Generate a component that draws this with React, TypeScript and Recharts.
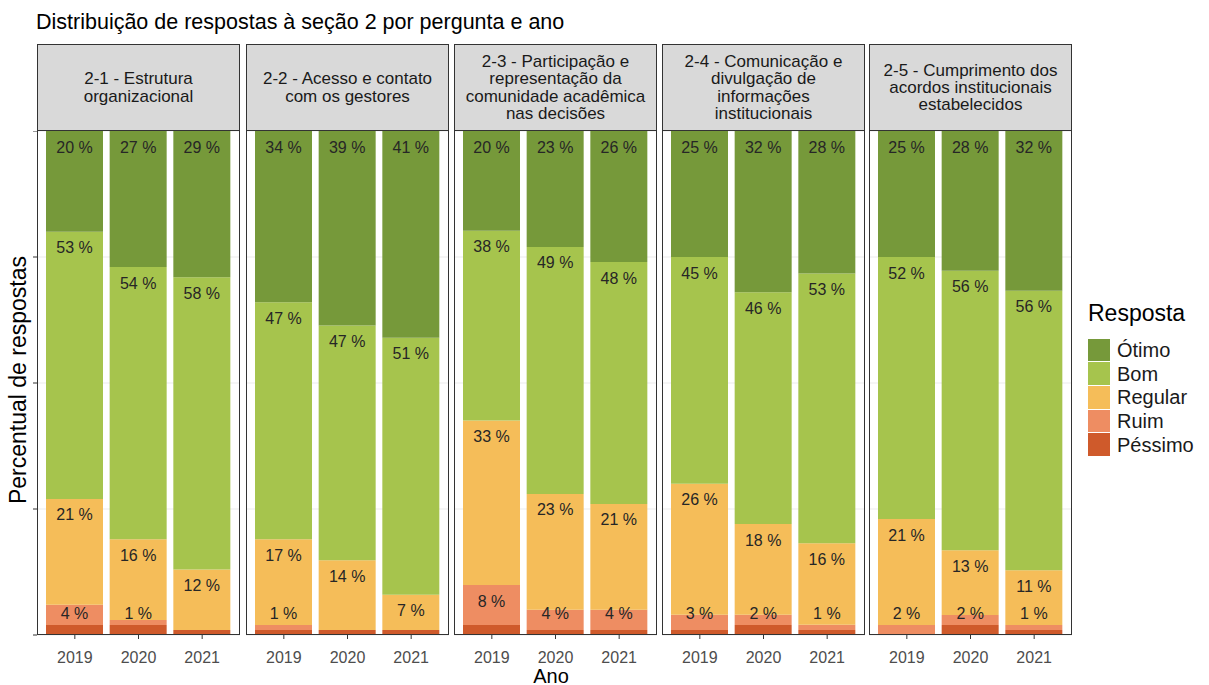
import React from 'react';
import { BarChart, Bar, XAxis, YAxis, CartesianGrid, LabelList } from 'recharts';

const years = ['2019', '2020', '2021'];

const questions = [
  ['2-1 - Estrutura', 'organizacional'],
  ['2-2 - Acesso e contato', 'com os gestores'],
  ['2-3 - Participação e', 'representação da', 'comunidade acadêmica', 'nas decisões'],
  ['2-4 - Comunicação e', 'divulgação de', 'informações', 'institucionais'],
  ['2-5 - Cumprimento dos', 'acordos institucionais', 'estabelecidos'],
];

// percent per question (row) and year (column)
const otimo = [[20, 27, 29], [34, 39, 41], [20, 23, 26], [25, 32, 28], [25, 28, 32]];
const bom = [[53, 54, 58], [47, 47, 51], [38, 49, 48], [45, 46, 53], [52, 56, 56]];
const regular = [[21, 16, 12], [17, 14, 7], [33, 23, 21], [26, 18, 16], [21, 13, 11]];
const ruim = [[4, 1, 0], [1, 0, 0], [8, 4, 4], [3, 2, 1], [2, 2, 1]];
const pessimo = [[2, 2, 1], [1, 1, 1], [2, 1, 1], [1, 2, 1], [0, 2, 1]];

const answers = [
  { key: 'otimo', name: 'Ótimo', color: '#76993a', label: true },
  { key: 'bom', name: 'Bom', color: '#a6c44d', label: true },
  { key: 'regular', name: 'Regular', color: '#f5bd59', label: true },
  { key: 'ruim', name: 'Ruim', color: '#ee8d62', label: true },
  { key: 'pessimo', name: 'Péssimo', color: '#cf5a2b', label: false },
];

const FONT = '"Liberation Sans", Arial, sans-serif';
const panelLefts = [37, 246, 454, 662, 869];
const PANEL_W = 203;
const PLOT_TOP = 131;
const PLOT_H = 504;
const STRIP_TOP = 44;

const makeRows = (q: number) =>
  years.map((year, i) => ({
    year,
    otimo: otimo[q][i],
    bom: bom[q][i],
    regular: regular[q][i],
    ruim: ruim[q][i],
    pessimo: pessimo[q][i],
  }));

const makeLabel = (rows: any[], key: string) => (props: any) => {
  const { x, y, width, index } = props;
  const v = rows[index][key];
  if (!v) return null;
  const cy = Math.min(y + 16, PLOT_H - 22);
  return (
    <text
      x={x + width / 2}
      y={cy}
      textAnchor="middle"
      dominantBaseline="central"
      fontSize={16}
      fontFamily={FONT}
      fill="#262626"
    >
      {`${v} %`}
    </text>
  );
};

const Panel: React.FC<{ q: number }> = ({ q }) => {
  const rows = makeRows(q);
  const first = q === 0;
  const yw = first ? 6 : 0;
  const stackOrder = [...answers].reverse();
  return (
    <div style={{ position: 'absolute', left: panelLefts[q] - yw, top: PLOT_TOP }}>
      <BarChart
        width={PANEL_W + yw}
        height={PLOT_H + 36}
        data={rows}
        stackOffset="expand"
        margin={{ top: 0, right: 0, bottom: 0, left: 0 }}
        barSize={57}
      >
        <CartesianGrid vertical={false} stroke="#ebebeb" />
        <XAxis
          dataKey="year"
          type="category"
          interval={0}
          padding={{ left: 6, right: 6 }}
          axisLine={false}
          tickLine={{ stroke: '#333' }}
          tickSize={4}
          tickMargin={13}
          height={36}
          tick={{ fontSize: 16, fill: '#4d4d4d', fontFamily: FONT }}
        />
        <YAxis
          hide={!first}
          width={yw}
          domain={[0, 1]}
          ticks={[0, 0.25, 0.5, 0.75, 1]}
          tickFormatter={() => ''}
          axisLine={false}
          tickLine={{ stroke: '#333' }}
          tickSize={4}
        />
        {stackOrder.map((a) => (
          <Bar key={a.key} dataKey={a.key} stackId="s" fill={a.color} isAnimationActive={false}>
            {a.label && <LabelList content={makeLabel(rows, a.key)} />}
          </Bar>
        ))}
      </BarChart>
      <div
        style={{
          position: 'absolute',
          left: yw,
          top: -1,
          width: PANEL_W,
          height: PLOT_H + 1,
          border: '1px solid #333',
          boxSizing: 'border-box',
          pointerEvents: 'none',
        }}
      />
    </div>
  );
};

export default function App() {
  return (
    <div
      style={{
        position: 'absolute',
        left: 0,
        top: 0,
        width: 1209,
        height: 685,
        background: '#fff',
        fontFamily: FONT,
        overflow: 'hidden',
      }}
    >
      <div
        style={{
          position: 'absolute',
          left: 36,
          top: 23,
          transform: 'translateY(-50%)',
          fontSize: 21.5,
          lineHeight: 1,
          color: '#000',
          whiteSpace: 'nowrap',
        }}
      >
        Distribuição de respostas à seção 2 por pergunta e ano
      </div>

      {questions.map((lines, q) => (
        <div
          key={'strip' + q}
          style={{
            position: 'absolute',
            left: panelLefts[q],
            top: STRIP_TOP,
            width: PANEL_W,
            height: PLOT_TOP - STRIP_TOP,
            background: '#d9d9d9',
            border: '1px solid #333',
            boxSizing: 'border-box',
            display: 'flex',
            flexDirection: 'column',
            alignItems: 'center',
            justifyContent: 'center',
            fontSize: 17,
            lineHeight: '17.3px',
            color: '#1a1a1a',
            textAlign: 'center',
            whiteSpace: 'nowrap',
          }}
        >
          {lines.map((l, i) => (
            <div key={i}>{l}</div>
          ))}
        </div>
      ))}

      {questions.map((_, q) => (
        <Panel key={'panel' + q} q={q} />
      ))}

      <div
        style={{
          position: 'absolute',
          left: 18,
          top: 380,
          transform: 'translate(-50%, -50%) rotate(-90deg)',
          fontSize: 23,
          lineHeight: 1,
          whiteSpace: 'nowrap',
          color: '#000',
        }}
      >
        Percentual de respostas
      </div>

      <div
        style={{
          position: 'absolute',
          left: 551,
          top: 676,
          transform: 'translate(-50%, -50%)',
          fontSize: 20,
          lineHeight: 0.85,
          color: '#000',
        }}
      >
        Ano
      </div>

      <div
        style={{
          position: 'absolute',
          left: 1088,
          top: 313,
          transform: 'translateY(-50%)',
          fontSize: 23,
          lineHeight: 1,
          color: '#000',
        }}
      >
        Resposta
      </div>
      {answers.map((a, i) => (
        <div
          key={a.key}
          style={{
            position: 'absolute',
            left: 1088,
            top: 338 + i * 23.7,
            height: 23.7,
            display: 'flex',
            alignItems: 'center',
          }}
        >
          <div style={{ width: 22, height: 22.7, background: a.color }} />
          <div style={{ marginLeft: 7, fontSize: 20, lineHeight: 1, color: '#1a1a1a' }}>{a.name}</div>
        </div>
      ))}
    </div>
  );
}
